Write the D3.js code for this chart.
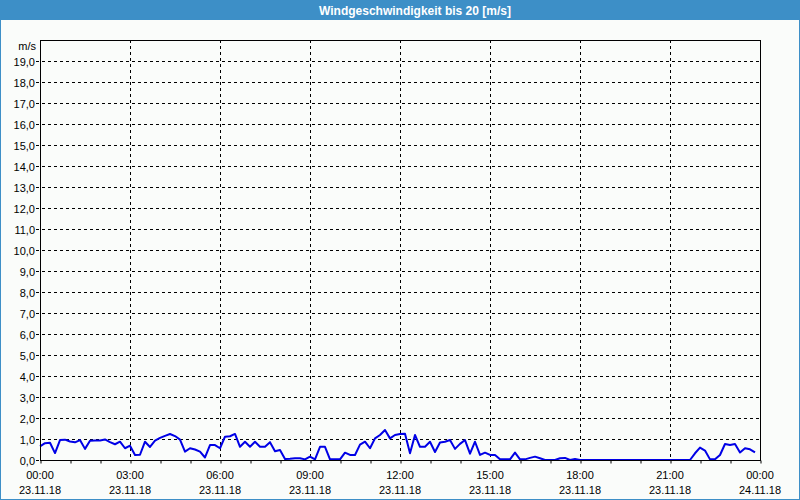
<!DOCTYPE html>
<html><head><meta charset="utf-8">
<script src="https://cdn.jsdelivr.net/npm/d3@7"></script>
<style>
html,body{margin:0;padding:0;background:#fafcfa;}
svg{display:block;}
text{font-family:"Liberation Sans",Arial,sans-serif;}
</style></head>
<body>
<svg id="chart" width="800" height="500"></svg>
<script>
// ---- data ----
const chartTitle = "Windgeschwindigkeit bis 20 [m/s]";
const unitLabel = "m/s";
const startTime = "2018-11-23T00:00:00";
const endTime = "2018-11-24T00:00:00";
const sampleMinutes = 10;
// wind speed in m/s, one value every 10 minutes from 00:00
const windSpeed = [
 0.65,0.80,0.82,0.33,0.95,0.97,0.88,0.84,0.95,0.53,
 0.92,0.93,0.93,0.98,0.85,0.75,0.87,0.56,0.68,0.24,
 0.25,0.87,0.62,0.92,1.05,1.15,1.24,1.14,0.97,0.40,
 0.56,0.50,0.40,0.12,0.71,0.71,0.56,1.11,1.13,1.24,
 0.63,0.87,0.63,0.87,0.63,0.63,0.85,0.42,0.48,0.05,
 0.06,0.08,0.08,0.03,0.16,0.03,0.63,0.63,0.03,0.03,
 0.03,0.35,0.24,0.24,0.73,0.87,0.56,1.03,1.19,1.43,
 1.03,1.19,1.24,1.25,0.32,1.19,0.63,0.63,0.87,0.38,
 0.83,0.87,0.95,0.53,0.77,0.95,0.30,0.87,0.24,0.35,
 0.24,0.24,0.03,0.03,0.03,0.35,0.03,0.03,0.10,0.16,
 0.08,0.00,0.00,0.00,0.08,0.10,0.00,0.05,0.00,0.00,
 0.00,0.00,0.00,0.00,0.00,0.00,0.00,0.00,0.00,0.00,
 0.00,0.00,0.00,0.00,0.00,0.00,0.00,0.00,0.00,0.00,
 0.00,0.32,0.59,0.45,0.03,0.03,0.24,0.76,0.71,0.76,
 0.36,0.56,0.51,0.36
];
const yTicks = [0,1,2,3,4,5,6,7,8,9,10,11,12,13,14,15,16,17,18,19];
const yGridValues = [1,2,3,4,5,6,7,8,9,10,11,12,13,14,15,16,17,18,19];
const xLabelTimes = ["2018-11-23T00:00:00","2018-11-23T03:00:00","2018-11-23T06:00:00","2018-11-23T09:00:00",
  "2018-11-23T12:00:00","2018-11-23T15:00:00","2018-11-23T18:00:00","2018-11-23T21:00:00","2018-11-24T00:00:00"];
const xGridTimes = xLabelTimes.slice(1, -1);
const yMax = 20;

// ---- layout ----
const W = 800, H = 500;
const plot = {left: 40, right: 760, top: 40, bottom: 460};
const svg = d3.select("#chart");

const parse = d3.isoParse;
const t0 = parse(startTime), t1 = parse(endTime);
const data = windSpeed.map((v, i) => ({t: new Date(t0.getTime() + i * sampleMinutes * 60000), v}));

const x = d3.scaleTime().domain([t0, t1]).range([plot.left, plot.right]);
const y = d3.scaleLinear().domain([0, yMax]).range([plot.bottom, plot.top]);

// background & frame
svg.append("rect").attr("width", W).attr("height", H).attr("fill", "#fafcfa");
svg.append("rect").attr("x", 0).attr("y", 0).attr("width", W).attr("height", 20).attr("fill", "#3d8fc7");
svg.append("rect").attr("x", 0.5).attr("y", 0.5).attr("width", W - 1).attr("height", H - 1)
  .attr("fill", "none").attr("stroke", "#3d8fc7");
svg.append("text").attr("x", 415).attr("y", 14.5).attr("text-anchor", "middle")
  .attr("fill", "#ffffff").attr("font-weight", "bold").attr("font-size", 12)
  .attr("font-family", "'Liberation Sans Narrow','Liberation Sans',sans-serif")
  .text(chartTitle);

// horizontal grid (extends left of axis as tick)
svg.append("g").selectAll("line").data(yGridValues).join("line")
  .attr("x1", plot.left - 4).attr("x2", plot.right)
  .attr("y1", d => Math.round(y(d)) + 0.5).attr("y2", d => Math.round(y(d)) + 0.5)
  .attr("stroke", "#000").attr("stroke-dasharray", "3,3");
// tick at 0
svg.append("line").attr("x1", plot.left - 4).attr("x2", plot.left)
  .attr("y1", y(0) + 0.5).attr("y2", y(0) + 0.5).attr("stroke", "#000").attr("stroke-dasharray", "3,3");

// vertical grid
svg.append("g").selectAll("line").data(xGridTimes).join("line")
  .attr("x1", d => Math.round(x(parse(d))) + 0.5).attr("x2", d => Math.round(x(parse(d))) + 0.5)
  .attr("y1", plot.top).attr("y2", plot.bottom)
  .attr("stroke", "#000").attr("stroke-dasharray", "3,3");

// bottom axis with hourly minor ticks
const xAxis = d3.axisBottom(x).ticks(d3.timeHour.every(1)).tickSize(3).tickFormat("");
const gx = svg.append("g").attr("transform", `translate(0.5,${plot.bottom + 0.5})`).call(xAxis);
gx.select(".domain").remove();
gx.selectAll("line").attr("stroke", "#000");

// x labels
const fmtTime = d3.timeFormat("%H:%M"), fmtDate = d3.timeFormat("%d.%m.%y");
const xl = svg.append("g").selectAll("g").data(xLabelTimes).join("g")
  .attr("transform", d => `translate(${x(parse(d))},0)`);
xl.append("text").attr("y", 479).attr("text-anchor", "middle").attr("font-size", 11).attr("fill", "#000")
  .text(d => fmtTime(parse(d)));
xl.append("text").attr("y", 494).attr("text-anchor", "middle").attr("font-size", 11).attr("fill", "#000")
  .text(d => fmtDate(parse(d)));

// y labels
const fmtY = v => d3.format(".1f")(v).replace(".", ",");
svg.append("g").selectAll("text").data(yTicks).join("text")
  .attr("x", 35).attr("y", d => y(d) + 4.5).attr("text-anchor", "end")
  .attr("font-size", 11).attr("fill", "#000").text(fmtY);
svg.append("text").attr("x", 36).attr("y", 50).attr("text-anchor", "end")
  .attr("font-size", 11).attr("fill", "#000").text(unitLabel);

// data line
svg.append("path").datum(data)
  .attr("d", d3.line().x(d => x(d.t)).y(d => y(d.v)))
  .attr("fill", "none").attr("stroke", "#0000e6").attr("stroke-width", 2).attr("stroke-linejoin", "round");

// plot frame
svg.append("rect").attr("x", plot.left + 0.5).attr("y", plot.top + 0.5)
  .attr("width", plot.right - plot.left).attr("height", plot.bottom - plot.top)
  .attr("fill", "none").attr("stroke", "#000");
</script>
</body></html>
